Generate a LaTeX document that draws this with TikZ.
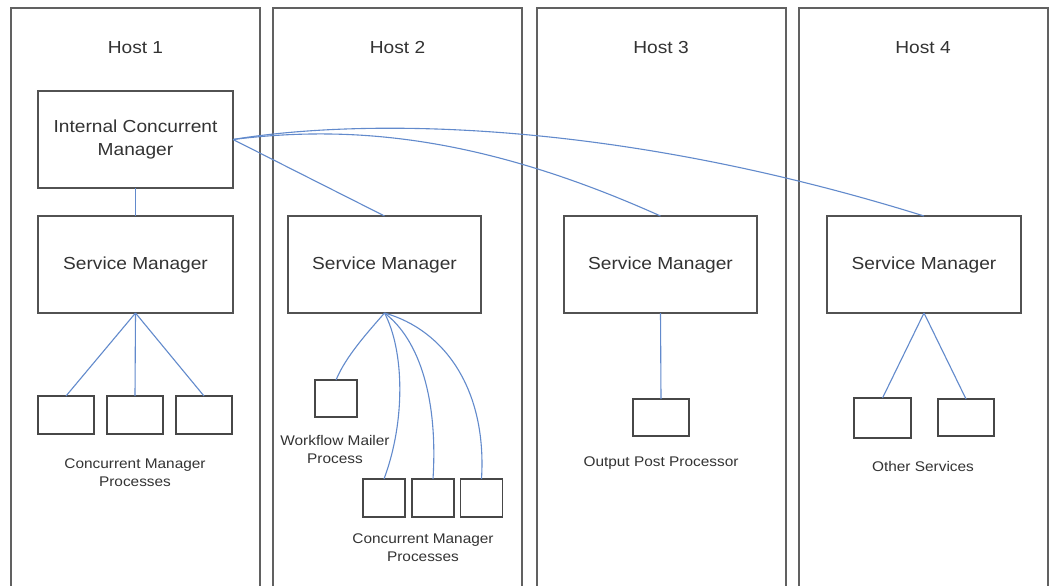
\documentclass[tikz,border=0pt]{standalone}
\usepackage{fontspec}
\setmainfont[FakeStretch=1.1]{Liberation Sans}
\begin{document}
\begin{tikzpicture}[x=1pt,y=-1pt,
  hostbox/.style={draw=black!62,line width=1.5pt,minimum width=249pt,minimum height=620pt,anchor=north west,inner sep=0pt,outer sep=0pt},
  bigbox/.style={draw=black!68,line width=1.5pt,fill=white,minimum width=195pt,minimum height=97pt,inner sep=0pt,outer sep=0pt,align=center,text=black!80,font={\fontsize{17.4}{24}\selectfont}},
  smallbox/.style={draw=black!72,line width=1.5pt,fill=white,minimum width=56pt,minimum height=38pt,inner sep=0pt,outer sep=0pt},
  hostlabel/.style={text=black!80,font={\fontsize{17.4}{22}\selectfont},inner sep=0pt},
  caption/.style={text=black!80,font={\fontsize{14}{18}\selectfont},align=center,inner sep=0pt},
  link/.style={draw={rgb,255:red,98;green,138;blue,204},line width=1.1pt}]
\clip (0,0) rectangle (1049,586);
\fill[white] (0,0) rectangle (1049,586);

% hosts (open at the bottom edge)
\node[hostbox] (host1) at (11,8) {};
\node[hostbox] (host2) at (273,8) {};
\node[hostbox] (host3) at (537,8) {};
\node[hostbox] (host4) at (799,8) {};
\node[hostlabel] (h1) at (135.5,48) {Host 1};
\node[hostlabel] (h2) at (397.5,48) {Host 2};
\node[hostlabel] (h3) at (661,48) {Host 3};
\node[hostlabel] (h4) at (923,48) {Host 4};

% managers
\node[bigbox] (icm) at (135.5,139.5) {Internal Concurrent\\Manager};
\node[bigbox] (sm1) at (135.5,264.5) {Service Manager};
\node[bigbox,minimum width=193pt] (sm2) at (384.5,264.5) {Service Manager};
\node[bigbox,minimum width=193pt] (sm3) at (660.5,264.5) {Service Manager};
\node[bigbox,minimum width=194pt] (sm4) at (924,264.5) {Service Manager};

% host 1 processes
\node[smallbox] (p11) at (66,415) {};
\node[smallbox] (p12) at (135,415) {};
\node[smallbox] (p13) at (204,415) {};
\node[caption] (c1) at (135,473) {Concurrent Manager\\Processes};

% host 2 processes
\node[smallbox,minimum width=42pt,minimum height=37pt] (wm) at (336,398.5) {};
\node[caption] (cwm) at (335,449) {Workflow Mailer\\Process};
\node[smallbox,minimum width=42pt] (p21) at (384,498) {};
\node[smallbox,minimum width=42pt] (p22) at (433,498) {};
\node[smallbox,minimum width=42pt] (p23) at (481.5,498) {};
\node[caption] (c2) at (423,548) {Concurrent Manager\\Processes};

% host 3 processes
\node[smallbox,minimum height=37pt] (opp) at (661,417.5) {};
\node[caption] (c3) at (661,463) {Output Post Processor};

% host 4 processes
\node[smallbox,minimum width=57pt,minimum height=40pt] (os1) at (882.5,418) {};
\node[smallbox,minimum height=37pt] (os2) at (966,417.5) {};
\node[caption] (c4) at (923,466) {Other Services};

% connectors
\begin{scope}[link]
\draw (icm.south) -- (sm1.north);
\draw (icm.east) -- (sm2.north);
\draw (icm.east) .. controls (350,125) and (480,135) .. (sm3.north);
\draw (icm.east) .. controls (350,120) and (600,115) .. (sm4.north);

\draw (sm1.south) -- (p11.north);
\draw (sm1.south) -- (p12.north);
\draw (sm1.south) -- (p13.north);

\draw (sm2.south) .. controls (368,332) and (346,356) .. (wm.north);
\draw (sm2.south) .. controls (404,350) and (406,420) .. (p21.north);
\draw (sm2.south) .. controls (420,340) and (438,400) .. (p22.north);
\draw (sm2.south) .. controls (445,330) and (487,390) .. (p23.north);

\draw (sm3.south) -- (opp.north);

\draw (sm4.south) -- (os1.north);
\draw (sm4.south) -- (os2.north);
\end{scope}
\end{tikzpicture}
\end{document}
